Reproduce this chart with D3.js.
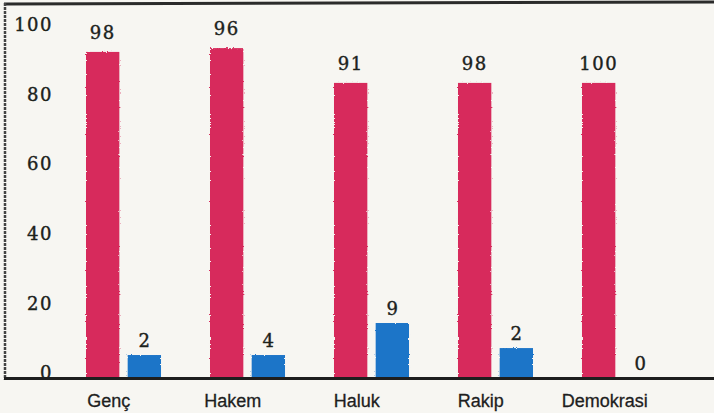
<!DOCTYPE html>
<html>
<head>
<meta charset="utf-8">
<script src="https://cdn.jsdelivr.net/npm/d3@7"></script>
<style>
	body { margin: 0; background: #f7f6f2; }
	svg { display: block; }
</style>
</head>
<body>
<div id="chart"></div>
<script>
// Data
let categories = ['Genç', 'Hakem', 'Haluk', 'Rakip', 'Demokrasi'];
let redValues = [93.7, 94.8, 84.8, 84.8, 84.8];
let blueValues = [6.6, 6.6, 15.8, 8.6, 0];
let redLabels = ['98', '96', '91', '98', '100'];
let blueLabels = ['2', '4', '9', '2', '0'];
let yTicks = [0, 20, 40, 60, 80, 100];

let width = 714;
let height = 413;

let svg = d3.select('#chart')
	.append('svg')
	.attr('width', width)
	.attr('height', height)

// rough, hand-painted edges for the bars
let filter = svg.append('defs').append('filter')
	.attr('id', 'rough')
	.attr('x', '-10%').attr('y', '-10%')
	.attr('width', '120%').attr('height', '120%')
filter.append('feTurbulence')
	.attr('type', 'fractalNoise')
	.attr('baseFrequency', 0.7)
	.attr('numOctaves', 2)
	.attr('seed', 3)
	.attr('result', 'noise')
filter.append('feDisplacementMap')
	.attr('in', 'SourceGraphic')
	.attr('in2', 'noise')
	.attr('scale', 2.5)

svg.append('rect')
	.attr('width', width)
	.attr('height', height)
	.attr('fill', '#f7f6f2')

// Scales
let y = d3.scaleLinear().domain([0, 100]).range([378, 30]);
let x = d3.scaleBand().domain(categories).range([86, 657]).paddingInner(0.395).paddingOuter(0);
let xSub = d3.scaleBand().domain(['red', 'blue']).range([0, x.bandwidth()]).paddingInner(0.2);

let rows = categories.map(function(c, i){
	return {cat: c, red: redValues[i], blue: blueValues[i], redLabel: redLabels[i], blueLabel: blueLabels[i]};
});

let serif = '"DejaVu Serif", serif';

// Y axis labels (no tick marks)
let yAxis = svg.append('g')
	.attr('transform', 'translate(53,-5)')
	.call(d3.axisLeft(y).tickValues(yTicks).tickSize(0).tickPadding(0));
yAxis.select('.domain').remove();
yAxis.selectAll('text')
	.attr('font-family', serif)
	.attr('font-size', 18)
	.attr('letter-spacing', 1.5)
	.attr('fill', '#1c221c')
	.attr('stroke', '#1c221c')
	.attr('stroke-width', 0.4);

// Bars
let groups = svg.selectAll('.grp')
	.data(rows)
	.enter()
	.append('g')
	.attr('class', 'grp')
	.attr('transform', function(d){ return 'translate(' + x(d.cat) + ',0)'; })

groups.append('rect')
	.attr('x', xSub('red'))
	.attr('width', xSub.bandwidth())
	.attr('y', function(d){ return y(d.red); })
	.attr('height', function(d){ return y(0) - y(d.red); })
	.attr('fill', '#d72c5c')
	.attr('filter', 'url(#rough)')

groups.append('rect')
	.attr('x', xSub('blue'))
	.attr('width', xSub.bandwidth())
	.attr('y', function(d){ return y(d.blue); })
	.attr('height', function(d){ return y(0) - y(d.blue); })
	.attr('fill', '#1c75c8')
	.attr('filter', 'url(#rough)')

// Value labels
groups.append('text')
	.text(function(d){ return d.redLabel; })
	.attr('x', xSub('red') + xSub.bandwidth() / 2)
	.attr('y', function(d){ return y(d.red) - 13; })
	.attr('text-anchor', 'middle')
	.attr('font-family', serif)
	.attr('font-size', 18)
	.attr('letter-spacing', 1.5)
	.attr('fill', '#1c221c')
	.attr('stroke', '#1c221c')
	.attr('stroke-width', 0.4)

groups.append('text')
	.text(function(d){ return d.blueLabel; })
	.attr('x', xSub('blue') + xSub.bandwidth() / 2)
	.attr('y', function(d){ return y(d.blue) - 8; })
	.attr('text-anchor', 'middle')
	.attr('font-family', serif)
	.attr('font-size', 18)
	.attr('fill', '#1c221c')
	.attr('stroke', '#1c221c')
	.attr('stroke-width', 0.4)

// Category labels
groups.append('text')
	.text(function(d){ return d.cat; })
	.attr('x', xSub('red') + xSub.bandwidth() / 2 + 6)
	.attr('y', 407)
	.attr('text-anchor', 'middle')
	.attr('font-family', '"Liberation Sans", Arial, sans-serif')
	.attr('font-size', 18)
	.attr('fill', '#1e1e1e')
	.attr('stroke', '#1e1e1e')
	.attr('stroke-width', 0.3)

// Frame
svg.append('line')
	.attr('x1', 4).attr('x2', width)
	.attr('y1', 4).attr('y2', 2)
	.attr('stroke', '#2b2b2b')
	.attr('stroke-width', 3)
svg.append('line')
	.attr('x1', 5).attr('x2', 5)
	.attr('y1', 3).attr('y2', 380)
	.attr('stroke', '#444')
	.attr('stroke-width', 2.5)
	.attr('stroke-dasharray', '3,1')
svg.append('line')
	.attr('x1', 4).attr('x2', width)
	.attr('y1', 378.5).attr('y2', 378.5)
	.attr('stroke', '#1e1e1e')
	.attr('stroke-width', 3)
</script>
</body>
</html>
